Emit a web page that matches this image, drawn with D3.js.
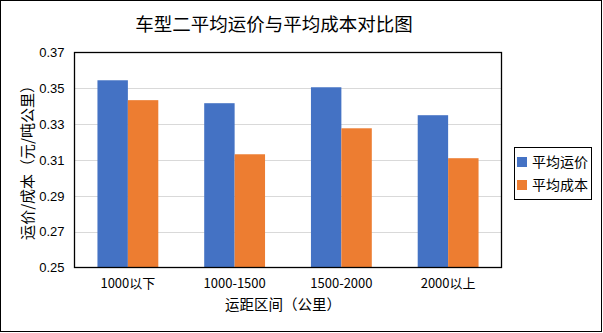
<!DOCTYPE html>
<html><head><meta charset="utf-8">
<script src="https://cdn.jsdelivr.net/npm/d3@7"></script>
<style>body{margin:0;background:#fff}svg{display:block}text{font-family:"Noto Sans CJK SC","Noto Sans",sans-serif;fill:#000}</style>
</head><body><svg id="c" width="603" height="333"></svg>
<script>
const categories = ["1000以下","1000-1500","1500-2000","2000以上"];
const seriesNames = ["平均运价","平均成本"];
const avgPrice = [0.3545, 0.3417, 0.3506, 0.3350];
const avgCost = [0.3434, 0.3132, 0.3277, 0.3110];
const yTicks = [0.25,0.27,0.29,0.31,0.33,0.35,0.37];
const colors = ["#4472C4","#ED7D31"];

const svg = d3.select("#c");
svg.append("rect").attr("x",0.5).attr("y",0.5).attr("width",601).attr("height",331)
  .attr("fill","#fff").attr("stroke","#000");

const L=74.5, R=501.5, T=52.5, B=267.5;
const x0 = d3.scaleBand().domain(categories).range([L,R]).paddingInner(0.43).paddingOuter(0.215);
const x1 = d3.scaleBand().domain(seriesNames).range([0,x0.bandwidth()]);
const y = d3.scaleLinear().domain([0.25,0.37]).range([B,T]);

// gridlines
svg.append("g").selectAll("line").data(yTicks.slice(1,-1)).join("line")
  .attr("x1",L).attr("x2",R).attr("y1",d=>Math.round(y(d))+0.5).attr("y2",d=>Math.round(y(d))+0.5)
  .attr("stroke","#d9d9d9").attr("stroke-width",1);

const data = categories.map((c,i)=>({c, vals:[avgPrice[i],avgCost[i]]}));
svg.append("g").selectAll("g").data(data).join("g")
  .attr("transform",d=>`translate(${x0(d.c)},0)`)
  .selectAll("rect").data(d=>d.vals.map((v,j)=>({v,s:seriesNames[j],j}))).join("rect")
  .attr("x",d=>x1(d.s)).attr("width",x1.bandwidth())
  .attr("y",d=>y(d.v)).attr("height",d=>B-y(d.v))
  .attr("fill",d=>colors[d.j]);

// plot border
svg.append("rect").attr("x",L).attr("y",T).attr("width",R-L).attr("height",B-T)
  .attr("fill","none").attr("stroke","#000").attr("stroke-width",1.3);

// y axis labels
const yAxis = d3.axisLeft(y).tickValues(yTicks).tickFormat(d3.format(".2f")).tickSize(0).tickPadding(10);
const gy = svg.append("g").attr("transform",`translate(${L},0)`).call(yAxis);
gy.select(".domain").remove();
gy.selectAll("text").style("font-family","'Liberation Sans',sans-serif").style("font-size","13px").attr("fill","#000");

// x axis labels
const xAxis = d3.axisBottom(x0).tickSize(0).tickPadding(11);
const gx = svg.append("g").attr("transform",`translate(0,${B})`).call(xAxis);
gx.select(".domain").remove();
gx.selectAll("text").style("font-size","13px").attr("fill","#000");

// titles
svg.append("text").attr("x",274).attr("y",31).attr("text-anchor","middle")
  .style("font-size","18.5px").attr("fill","#222").text("车型二平均运价与平均成本对比图");
svg.append("text").attr("x",283).attr("y",310).attr("text-anchor","middle")
  .style("font-size","14.5px").text("运距区间（公里）");
svg.append("text").attr("transform","translate(33,159) rotate(-90)").attr("text-anchor","middle")
  .style("font-size","15px").text("运价/成本（元/吨公里）");

// legend
const lg = svg.append("g");
lg.append("rect").attr("x",514.5).attr("y",147.5).attr("width",77).attr("height",52)
  .attr("fill","#fff").attr("stroke","#000");
seriesNames.forEach((s,i)=>{
  lg.append("rect").attr("x",517).attr("y",157+i*23).attr("width",10).attr("height",10).attr("fill",colors[i]);
  lg.append("text").attr("x",532).attr("y",167+i*23).style("font-size","14px").text(s);
});
</script></body></html>
